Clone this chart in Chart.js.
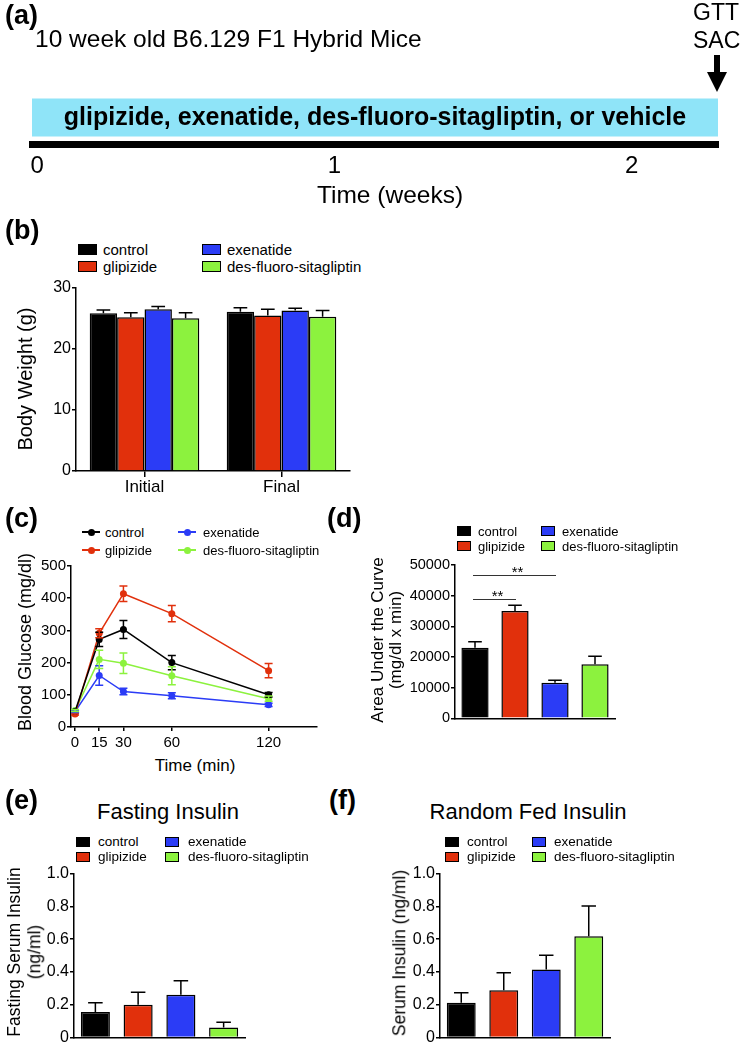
<!DOCTYPE html>
<html>
<head>
<meta charset="utf-8">
<script src="https://cdn.jsdelivr.net/npm/chart.js@4.4.0/dist/chart.umd.min.js"></script>
<style>
html, body { margin: 0; padding: 0; background: #fff; }
#page { position: relative; width: 742px; height: 1048px; overflow: hidden; font-family: 'Liberation Sans', Arial, sans-serif; color: #000; }
#page canvas { position: absolute; }
.txt { position: absolute; white-space: nowrap; line-height: 1; }
.box { position: absolute; box-sizing: border-box; }
</style>
</head>
<body>
<div id="page">
  <svg style="position:absolute;left:700px;top:50px" width="34" height="46">
    <rect x="14" y="5" width="6" height="20" fill="#000"></rect>
    <polygon points="7,22 27,22 17,42" fill="#000"></polygon>
  </svg>
</div>
<script>
const FONT = "'Liberation Sans', Arial, sans-serif";

// groups, shared by every panel
const groupNames = ['control', 'glipizide', 'exenatide', 'des-fluoro-sitagliptin'];
const groupColors = ['#000000', '#e1300c', '#2b3cf6', '#8cf23e'];

// (a) study timeline, weeks
const timelineTicks = [0, 1, 2];
const treatmentWeeks = [-0.017, 2.29];
const treatmentText = 'glipizide, exenatide, des-fluoro-sitagliptin, or vehicle';

// (b) body weight (g), mean and SEM
const weightTimes = ['Initial', 'Final'];
const weightControl = [25.85, 26.1];
const weightGlipizide = [25.2, 25.5];
const weightExenatide = [26.5, 26.3];
const weightDesFluoro = [25.05, 25.3];
const weightControlSem = [0.55, 0.65];
const weightGlipizideSem = [0.75, 1.0];
const weightExenatideSem = [0.45, 0.4];
const weightDesFluoroSem = [0.9, 1.0];

// (c) GTT blood glucose (mg/dl)
const gttMinutes = [0, 15, 30, 60, 120];
const gttControl = [48, 272, 303, 200, 100];
const gttGlipizide = [40, 291, 414, 352, 175];
const gttExenatide = [48, 160, 110, 97, 69];
const gttDesFluoro = [51, 210, 198, 159, 88];
const gttControlSem = [3, 22, 28, 22, 7];
const gttGlipizideSem = [3, 14, 24, 25, 22];
const gttExenatideSem = [3, 30, 10, 9, 5];
const gttDesFluoroSem = [3, 28, 32, 28, 8];

// (d) area under the curve
const aucMean = [23000, 35000, 11600, 17600];
const aucSem = [2000, 1900, 800, 2600];
const aucComparisons = [[0, 1, '**'], [0, 2, '**']];

// (e) fasting insulin, (f) random fed insulin (ng/ml)
const fastingMean = [0.155, 0.20, 0.26, 0.06];
const fastingSem = [0.057, 0.076, 0.086, 0.033];
const fedMean = [0.212, 0.288, 0.414, 0.618];
const fedSem = [0.06, 0.106, 0.088, 0.184];

Chart.defaults.font.family = FONT;
Chart.defaults.color = '#000';

const page = document.getElementById('page');

function addText(str, x, y, size, o) {
    o = o || {};
    const d = document.createElement('div');
    d.className = 'txt';
    d.textContent = str;
    d.style.left = x + 'px';
    d.style.top = y + 'px';
    d.style.fontSize = size + 'px';
    if(o.bold){ d.style.fontWeight = 'bold'; }
    let tf = o.center ? 'translate(-50%,-50%)' : 'translate(0,-50%)';
    if(o.rotate){ tf = 'translate(-50%,-50%) rotate(-90deg)'; }
    d.style.transform = tf;
    page.appendChild(d);
    return d;
}

function addBox(x, y, w, h, css) {
    const d = document.createElement('div');
    d.className = 'box';
    d.style.left = x + 'px';
    d.style.top = y + 'px';
    d.style.width = w + 'px';
    d.style.height = h + 'px';
    Object.assign(d.style, css);
    page.appendChild(d);
}

//2x2 legend, cols = [markerX, textX] pairs, rows = centre y of each row
function legend(cols, rows, size, marker) {
    groupNames.forEach((name, i) => {
        const c = cols[Math.floor(i / 2)];
        const y = rows[i % 2];
        if(marker.type === 'square'){
            addBox(c[0], y - marker.h / 2, marker.w, marker.h, {background: groupColors[i], border: '1px solid #000'});
        }else{
            addBox(c[0], y - 0.75, marker.w, 1.5, {background: groupColors[i]});
            addBox(c[0] + marker.w / 2 - 3.5, y - 3.5, 7, 7, {background: groupColors[i], borderRadius: '50%'});
        }
        addText(name, c[1], y, size);
    });
}

// area = chart area in page px, pad = [y axis width, top pad, right pad, x axis height]
function makeChart(area, pad, config) {
    const [l, t, r, b] = area;
    const [yw, pt, pr, xh] = pad;
    const w = r - l + yw + pr;
    const h = b - t + pt + xh;
    const cv = document.createElement('canvas');
    cv.width = w;
    cv.height = h;
    cv.style.left = (l - yw) + 'px';
    cv.style.top = (t - pt) + 'px';
    cv.style.width = w + 'px';
    cv.style.height = h + 'px';
    page.appendChild(cv);
    const o = config.options;
    o.responsive = false;
    o.maintainAspectRatio = false;
    o.animation = false;
    o.devicePixelRatio = 1;
    const hideY = o.scales.y && o.scales.y.display === false;
    o.layout = {autoPadding: false, padding: {left: hideY ? yw : 0, top: pt, right: pr, bottom: 0}};
    if(!hideY){ o.scales.y.afterFit = s => { s.width = yw; }; }
    o.scales.x.afterFit = s => { s.height = xh; };
    o.plugins = Object.assign({legend: {display: false}, tooltip: {enabled: false}}, o.plugins || {});
    return new Chart(cv, config);
}

function yAxis(min, max, step, size, fmt) {
    return {
        min: min, max: max,
        ticks: {stepSize: step, color: '#000', font: {family: FONT, size: size}, padding: 1, callback: fmt || (v => String(v))},
        grid: {drawOnChartArea: false, drawTicks: true, tickLength: 4, color: '#000', lineWidth: 1.5},
        border: {display: true, color: '#000', width: 1.5}
    };
}

function plainX() {
    return {
        type: 'category',
        ticks: {display: false},
        grid: {display: true, drawOnChartArea: false, drawTicks: false},
        border: {display: true, color: '#000', width: 1.5}
    };
}

const insulinFmt = v => (v === 0 ? '0' : v.toFixed(1));

//error bars, sem is kept on each dataset
const errorBars = {
    id: 'errorBars',
    afterDatasetsDraw(chart, args, opts) {
        const ctx = chart.ctx;
        const ys = chart.scales.y;
        chart.data.datasets.forEach((ds, di) => {
            const meta = chart.getDatasetMeta(di);
            ctx.save();
            ctx.strokeStyle = opts.both ? ds.borderColor : '#000';
            ctx.lineWidth = 1.5;
            meta.data.forEach((el, i) => {
                const raw = ds.data[i];
                const v = typeof raw === 'object' ? raw.y : raw;
                const e = ds.sem[i];
                const half = opts.both ? opts.cap / 2 : el.width * 0.25;
                const hi = ys.getPixelForValue(v + e);
                const lo = ys.getPixelForValue(opts.both ? v - e : v);
                ctx.beginPath();
                ctx.moveTo(el.x, lo);
                ctx.lineTo(el.x, hi);
                ctx.moveTo(el.x - half, hi);
                ctx.lineTo(el.x + half, hi);
                if(opts.both){
                    ctx.moveTo(el.x - half, lo);
                    ctx.lineTo(el.x + half, lo);
                }
                ctx.stroke();
            });
            ctx.restore();
        });
    }
};

// ---------- (a) timeline ----------
const bandLabel = {
    id: 'bandLabel',
    afterDatasetsDraw(chart) {
        const el = chart.getDatasetMeta(0).data[0];
        const ctx = chart.ctx;
        ctx.save();
        ctx.font = 'bold 25px ' + FONT;
        ctx.fillStyle = '#000';
        ctx.textAlign = 'center';
        ctx.textBaseline = 'middle';
        ctx.fillText(treatmentText, (el.base + el.x) / 2, el.y + 1);
        ctx.restore();
    }
};

makeChart([32, 91, 718, 144], [32, 91, 24, 50], {
    type: 'bar',
    data: {labels: ['treatment'], datasets: [{data: [treatmentWeeks], backgroundColor: '#8fe4f8', borderWidth: 0, barPercentage: 38 / 53, categoryPercentage: 1}]},
    options: {
        indexAxis: 'y',
        scales: {
            x: {
                type: 'linear', min: treatmentWeeks[0], max: treatmentWeeks[1],
                afterBuildTicks: s => { s.ticks = timelineTicks.map(v => ({value: v})); },
                ticks: {color: '#000', font: {family: FONT, size: 24}, padding: 8},
                grid: {display: true, drawOnChartArea: false, drawTicks: false},
                border: {display: true, color: '#000', width: 7}
            },
            y: {display: false}
        }
    },
    plugins: [bandLabel]
});

addText('(a)', 5, 15, 27, {bold: true});
addText('10 week old B6.129 F1 Hybrid Mice', 35, 39, 24.5);
addText('GTT', 693, 12, 23);
addText('SAC', 693, 40, 23);
addText('Time (weeks)', 390, 195, 24.5, {center: true});

// ---------- (b) body weight ----------
const weightSeries = [weightControl, weightGlipizide, weightExenatide, weightDesFluoro];
const weightSems = [weightControlSem, weightGlipizideSem, weightExenatideSem, weightDesFluoroSem];

makeChart([76, 288, 350, 471], [60, 12, 10, 32], {
    type: 'bar',
    data: {
        labels: weightTimes,
        datasets: weightSeries.map((s, k) => ({
            label: groupNames[k], data: s, sem: weightSems[k],
            backgroundColor: groupColors[k], borderColor: '#000', borderWidth: 1.5,
            barPercentage: 1, categoryPercentage: 0.8
        }))
    },
    options: {
        scales: {
            x: {
                type: 'category',
                ticks: {color: '#000', font: {family: FONT, size: 17}, padding: 0},
                grid: {offset: false, drawOnChartArea: false, drawTicks: true, tickLength: 6, color: '#000', lineWidth: 1.5},
                border: {display: true, color: '#000', width: 1.5}
            },
            y: yAxis(0, 30, 10, 16)
        },
        plugins: {errorBars: {both: false}}
    },
    plugins: [errorBars]
});

addText('(b)', 5, 230, 27, {bold: true});
legend([[78, 103], [202, 227]], [249, 266], 15, {type: 'square', w: 19, h: 11});
addText('Body Weight (g)', 25, 379, 20, {rotate: true});

// ---------- (c) glucose tolerance ----------
const gttSeries = [gttControl, gttGlipizide, gttExenatide, gttDesFluoro];
const gttSems = [gttControlSem, gttGlipizideSem, gttExenatideSem, gttDesFluoroSem];

makeChart([71, 566, 317, 727], [50, 10, 15, 28], {
    type: 'line',
    data: {
        datasets: gttSeries.map((s, k) => ({
            label: groupNames[k],
            data: gttMinutes.map((m, i) => ({x: m, y: s[i]})),
            sem: gttSems[k],
            borderColor: groupColors[k], backgroundColor: groupColors[k],
            borderWidth: 1.5, pointRadius: 3.5, pointBorderWidth: 0, tension: 0
        }))
    },
    options: {
        scales: {
            x: {
                type: 'linear', min: -2.5, max: 150,
                afterBuildTicks: s => { s.ticks = gttMinutes.map(v => ({value: v})); },
                ticks: {color: '#000', font: {family: FONT, size: 15}, padding: 3},
                grid: {drawOnChartArea: false, drawTicks: true, tickLength: 4, color: '#000', lineWidth: 1.5},
                border: {display: true, color: '#000', width: 1.5}
            },
            y: yAxis(0, 500, 100, 15)
        },
        plugins: {errorBars: {both: true, cap: 8}}
    },
    plugins: [errorBars]
});

addText('(c)', 5, 518, 27, {bold: true});
legend([[82, 105], [178, 203]], [532, 550], 13, {type: 'line', w: 18});
addText('Blood Glucose (mg/dl)', 25, 642, 18, {rotate: true});
addText('Time (min)', 195, 765, 17, {center: true});

// ---------- (d) AUC ----------
function sigPlugin(pairs, levels) {
    return {
        id: 'sigBars',
        afterDatasetsDraw(chart) {
            const ctx = chart.ctx;
            const xs = chart.scales.x;
            const ys = chart.scales.y;
            ctx.save();
            ctx.strokeStyle = '#333';
            ctx.lineWidth = 1;
            ctx.fillStyle = '#000';
            ctx.font = '15px ' + FONT;
            ctx.textAlign = 'center';
            ctx.textBaseline = 'alphabetic';
            pairs.forEach((p, i) => {
                const x1 = xs.getPixelForValue(p[0]) - 2;
                const x2 = xs.getPixelForValue(p[1]) + 1;
                const y = Math.round(ys.getPixelForValue(levels[i])) + 0.5;
                ctx.beginPath();
                ctx.moveTo(x1, y);
                ctx.lineTo(x2, y);
                ctx.stroke();
                ctx.fillText(p[2], (x1 + x2) / 2 + 3, y + 1);
            });
            ctx.restore();
        }
    };
}

makeChart([455, 565, 615, 723], [55, 10, 10, 5], {
    type: 'bar',
    data: {
        labels: groupNames,
        datasets: [{data: aucMean, sem: aucSem, backgroundColor: groupColors, borderColor: '#000', borderWidth: 1.5, barPercentage: 0.68, categoryPercentage: 1}]
    },
    options: {
        scales: {x: plainX(), y: yAxis(0, 50000, 10000, 14.5)},
        plugins: {errorBars: {both: false}}
    },
    plugins: [errorBars, sigPlugin(aucComparisons, [39000, 46800])]
});

addText('(d)', 327, 518, 27, {bold: true});
legend([[457, 478], [541, 562]], [531, 546], 13, {type: 'square', w: 14, h: 10});
addText('Area Under the Curve', 377, 640, 17, {rotate: true});
addText('(mg/dl x min)', 395, 640, 17, {rotate: true});

// ---------- (e) fasting insulin ----------
makeChart([74, 873, 245, 1043], [45, 10, 10, 5], {
    type: 'bar',
    data: {
        labels: groupNames,
        datasets: [{data: fastingMean, sem: fastingSem, backgroundColor: groupColors, borderColor: '#000', borderWidth: 1.5, barPercentage: 0.68, categoryPercentage: 1}]
    },
    options: {
        scales: {x: plainX(), y: yAxis(0, 1, 0.2, 16, insulinFmt)},
        plugins: {errorBars: {both: false}}
    },
    plugins: [errorBars]
});

addText('(e)', 5, 800, 27, {bold: true});
addText('Fasting Insulin', 168, 812, 22, {center: true});
legend([[76, 98], [165, 188]], [842, 857], 13.5, {type: 'square', w: 14, h: 10});
addText('Fasting Serum Insulin', 15, 952, 17.5, {rotate: true});
addText('(ng/ml)', 35, 952, 17.5, {rotate: true});

// ---------- (f) random fed insulin ----------
makeChart([440, 873, 610, 1043], [45, 10, 10, 5], {
    type: 'bar',
    data: {
        labels: groupNames,
        datasets: [{data: fedMean, sem: fedSem, backgroundColor: groupColors, borderColor: '#000', borderWidth: 1.5, barPercentage: 0.68, categoryPercentage: 1}]
    },
    options: {
        scales: {x: plainX(), y: yAxis(0, 1, 0.2, 16, insulinFmt)},
        plugins: {errorBars: {both: false}}
    },
    plugins: [errorBars]
});

addText('(f)', 329, 800, 27, {bold: true});
addText('Random Fed Insulin', 528, 812, 22, {center: true});
legend([[445, 467], [532, 554]], [842, 857], 13.5, {type: 'square', w: 14, h: 10});
addText('Serum Insulin (ng/ml)', 400, 953, 17.5, {rotate: true});
</script>
</body>
</html>
